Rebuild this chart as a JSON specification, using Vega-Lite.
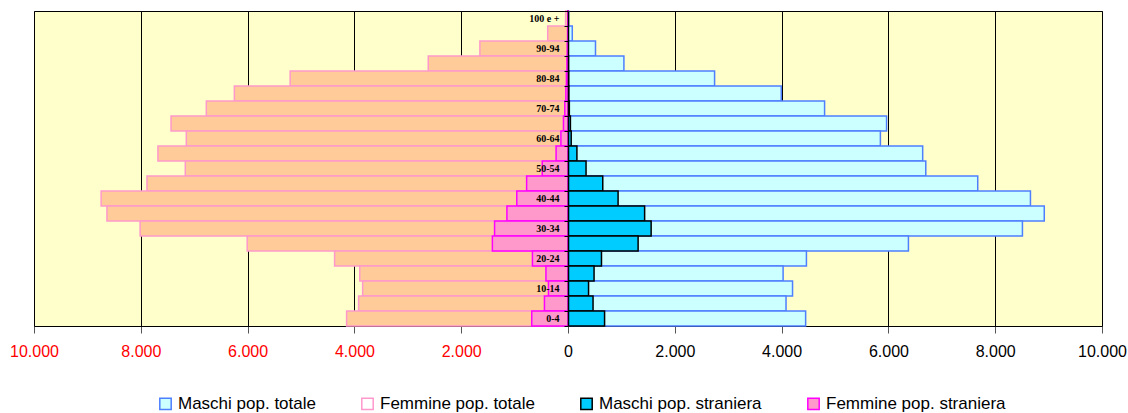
{
  "$schema": "https://vega.github.io/schema/vega-lite/v6.json",
  "autosize": "none",
  "padding": {"left": 34, "top": 11, "right": 26, "bottom": 87},
  "width": 1068,
  "height": 315,
  "background": "white",
  "view": {"fill": "#FFFFCC", "stroke": "black", "strokeWidth": 1},
  "data": {
    "values": [
      {"eta": "100 e +", "gruppo": "Maschi pop. totale", "valore": 12},
      {"eta": "95-99", "gruppo": "Maschi pop. totale", "valore": 80},
      {"eta": "90-94", "gruppo": "Maschi pop. totale", "valore": 515},
      {"eta": "85-89", "gruppo": "Maschi pop. totale", "valore": 1047},
      {"eta": "80-84", "gruppo": "Maschi pop. totale", "valore": 2745},
      {"eta": "75-79", "gruppo": "Maschi pop. totale", "valore": 3994},
      {"eta": "70-74", "gruppo": "Maschi pop. totale", "valore": 4805},
      {"eta": "65-69", "gruppo": "Maschi pop. totale", "valore": 5966},
      {"eta": "60-64", "gruppo": "Maschi pop. totale", "valore": 5850},
      {"eta": "55-59", "gruppo": "Maschi pop. totale", "valore": 6642},
      {"eta": "50-54", "gruppo": "Maschi pop. totale", "valore": 6700},
      {"eta": "45-49", "gruppo": "Maschi pop. totale", "valore": 7673},
      {"eta": "40-44", "gruppo": "Maschi pop. totale", "valore": 8660},
      {"eta": "35-39", "gruppo": "Maschi pop. totale", "valore": 8919},
      {"eta": "30-34", "gruppo": "Maschi pop. totale", "valore": 8510},
      {"eta": "25-29", "gruppo": "Maschi pop. totale", "valore": 6375},
      {"eta": "20-24", "gruppo": "Maschi pop. totale", "valore": 4465},
      {"eta": "15-19", "gruppo": "Maschi pop. totale", "valore": 4028},
      {"eta": "10-14", "gruppo": "Maschi pop. totale", "valore": 4205},
      {"eta": "5-9", "gruppo": "Maschi pop. totale", "valore": 4083},
      {"eta": "0-4", "gruppo": "Maschi pop. totale", "valore": 4450},
      {"eta": "100 e +", "gruppo": "Femmine pop. totale", "valore": -45},
      {"eta": "95-99", "gruppo": "Femmine pop. totale", "valore": -380},
      {"eta": "90-94", "gruppo": "Femmine pop. totale", "valore": -1650},
      {"eta": "85-89", "gruppo": "Femmine pop. totale", "valore": -2617},
      {"eta": "80-84", "gruppo": "Femmine pop. totale", "valore": -5203},
      {"eta": "75-79", "gruppo": "Femmine pop. totale", "valore": -6248},
      {"eta": "70-74", "gruppo": "Femmine pop. totale", "valore": -6773},
      {"eta": "65-69", "gruppo": "Femmine pop. totale", "valore": -7434},
      {"eta": "60-64", "gruppo": "Femmine pop. totale", "valore": -7148},
      {"eta": "55-59", "gruppo": "Femmine pop. totale", "valore": -7679},
      {"eta": "50-54", "gruppo": "Femmine pop. totale", "valore": -7167},
      {"eta": "45-49", "gruppo": "Femmine pop. totale", "valore": -7884},
      {"eta": "40-44", "gruppo": "Femmine pop. totale", "valore": -8743},
      {"eta": "35-39", "gruppo": "Femmine pop. totale", "valore": -8634},
      {"eta": "30-34", "gruppo": "Femmine pop. totale", "valore": -8013},
      {"eta": "25-29", "gruppo": "Femmine pop. totale", "valore": -6008},
      {"eta": "20-24", "gruppo": "Femmine pop. totale", "valore": -4371},
      {"eta": "15-19", "gruppo": "Femmine pop. totale", "valore": -3900},
      {"eta": "10-14", "gruppo": "Femmine pop. totale", "valore": -3846},
      {"eta": "5-9", "gruppo": "Femmine pop. totale", "valore": -3921},
      {"eta": "0-4", "gruppo": "Femmine pop. totale", "valore": -4146},
      {"eta": "100 e +", "gruppo": "Maschi pop. straniera", "valore": 2},
      {"eta": "95-99", "gruppo": "Maschi pop. straniera", "valore": 3},
      {"eta": "90-94", "gruppo": "Maschi pop. straniera", "valore": 5},
      {"eta": "85-89", "gruppo": "Maschi pop. straniera", "valore": 8},
      {"eta": "80-84", "gruppo": "Maschi pop. straniera", "valore": 12},
      {"eta": "75-79", "gruppo": "Maschi pop. straniera", "valore": 15},
      {"eta": "70-74", "gruppo": "Maschi pop. straniera", "valore": 25},
      {"eta": "65-69", "gruppo": "Maschi pop. straniera", "valore": 45},
      {"eta": "60-64", "gruppo": "Maschi pop. straniera", "valore": 60},
      {"eta": "55-59", "gruppo": "Maschi pop. straniera", "valore": 167},
      {"eta": "50-54", "gruppo": "Maschi pop. straniera", "valore": 338},
      {"eta": "45-49", "gruppo": "Maschi pop. straniera", "valore": 651},
      {"eta": "40-44", "gruppo": "Maschi pop. straniera", "valore": 938},
      {"eta": "35-39", "gruppo": "Maschi pop. straniera", "valore": 1435},
      {"eta": "30-34", "gruppo": "Maschi pop. straniera", "valore": 1557},
      {"eta": "25-29", "gruppo": "Maschi pop. straniera", "valore": 1313},
      {"eta": "20-24", "gruppo": "Maschi pop. straniera", "valore": 627},
      {"eta": "15-19", "gruppo": "Maschi pop. straniera", "valore": 488},
      {"eta": "10-14", "gruppo": "Maschi pop. straniera", "valore": 385},
      {"eta": "5-9", "gruppo": "Maschi pop. straniera", "valore": 469},
      {"eta": "0-4", "gruppo": "Maschi pop. straniera", "valore": 685},
      {"eta": "100 e +", "gruppo": "Femmine pop. straniera", "valore": -5},
      {"eta": "95-99", "gruppo": "Femmine pop. straniera", "valore": -8},
      {"eta": "90-94", "gruppo": "Femmine pop. straniera", "valore": -15},
      {"eta": "85-89", "gruppo": "Femmine pop. straniera", "valore": -20},
      {"eta": "80-84", "gruppo": "Femmine pop. straniera", "valore": -30},
      {"eta": "75-79", "gruppo": "Femmine pop. straniera", "valore": -40},
      {"eta": "70-74", "gruppo": "Femmine pop. straniera", "valore": -60},
      {"eta": "65-69", "gruppo": "Femmine pop. straniera", "valore": -85},
      {"eta": "60-64", "gruppo": "Femmine pop. straniera", "valore": -133},
      {"eta": "55-59", "gruppo": "Femmine pop. straniera", "valore": -223},
      {"eta": "50-54", "gruppo": "Femmine pop. straniera", "valore": -482},
      {"eta": "45-49", "gruppo": "Femmine pop. straniera", "valore": -775},
      {"eta": "40-44", "gruppo": "Femmine pop. straniera", "valore": -959},
      {"eta": "35-39", "gruppo": "Femmine pop. straniera", "valore": -1144},
      {"eta": "30-34", "gruppo": "Femmine pop. straniera", "valore": -1375},
      {"eta": "25-29", "gruppo": "Femmine pop. straniera", "valore": -1416},
      {"eta": "20-24", "gruppo": "Femmine pop. straniera", "valore": -666},
      {"eta": "15-19", "gruppo": "Femmine pop. straniera", "valore": -413},
      {"eta": "10-14", "gruppo": "Femmine pop. straniera", "valore": -366},
      {"eta": "5-9", "gruppo": "Femmine pop. straniera", "valore": -441},
      {"eta": "0-4", "gruppo": "Femmine pop. straniera", "valore": -679}
    ]
  },
  "encoding": {
    "y": {
      "field": "eta",
      "type": "nominal",
      "sort": ["100 e +", "95-99", "90-94", "85-89", "80-84", "75-79", "70-74", "65-69", "60-64", "55-59", "50-54", "45-49", "40-44", "35-39", "30-34", "25-29", "20-24", "15-19", "10-14", "5-9", "0-4"],
      "scale": {"paddingInner": 0, "paddingOuter": 0},
      "axis": {
        "title": null,
        "orient": "left",
        "offset": -534,
        "zindex": 2,
        "domainColor": "black",
        "domainWidth": 1.5,
        "tickColor": "black",
        "tickSize": 4,
        "tickBand": "extent",
        "labelPadding": 5,
        "labelFont": "Liberation Serif",
        "labelFontWeight": "bold",
        "labelFontSize": 10,
        "labelColor": "black",
        "labelExpr": "indexof(['100 e +','90-94','80-84','70-74','60-64','50-54','40-44','30-34','20-24','10-14','0-4'], datum.label) >= 0 ? datum.label : ''",
        "grid": false
      }
    },
    "x": {
      "field": "valore",
      "type": "quantitative",
      "stack": null,
      "scale": {"domain": [-10000, 10000], "nice": false, "zero": false},
      "axis": {
        "title": null,
        "values": [-10000, -8000, -6000, -4000, -2000, 0, 2000, 4000, 6000, 8000, 10000],
        "labelExpr": "replace(format(abs(datum.value), ',d'), ',', '.')",
        "labelFont": "Liberation Sans",
        "labelFontSize": 16,
        "labelFlush": false,
        "labelColor": {"condition": {"test": "datum.value < 0", "value": "#FF0000"}, "value": "black"},
        "labelPadding": 10,
        "tickSize": 7,
        "tickColor": "#555555",
        "domainColor": "black",
        "grid": true,
        "gridColor": "black",
        "gridWidth": 1,
        "gridOpacity": 1
      }
    }
  },
  "layer": [
    {
      "mark": {"type": "bar", "strokeWidth": 1.5, "opacity": 1},
      "encoding": {
        "fill": {
          "field": "gruppo",
          "type": "nominal",
          "scale": {
            "domain": ["Maschi pop. totale", "Femmine pop. totale", "Maschi pop. straniera", "Femmine pop. straniera"],
            "range": ["#CCFFFF", "#FFCC99", "#00CCFF", "#FF99CC"]
          },
          "legend": null
        },
        "stroke": {
          "field": "gruppo",
          "type": "nominal",
          "scale": {
            "domain": ["Maschi pop. totale", "Femmine pop. totale", "Maschi pop. straniera", "Femmine pop. straniera"],
            "range": ["#4D7FFF", "#FF99CC", "#000000", "#FF00FF"]
          },
          "legend": null
        }
      }
    },
    {
      "mark": {"type": "bar", "strokeWidth": 1.5, "opacity": 0},
      "encoding": {
        "fill": {
          "field": "gruppo",
          "type": "nominal",
          "scale": {
            "domain": ["Maschi pop. totale", "Femmine pop. totale", "Maschi pop. straniera", "Femmine pop. straniera"],
            "range": ["#CCFFFF", "#FFFFFF", "#00CCFF", "#FF99CC"]
          },
          "legend": {
            "title": null,
            "orient": "none",
            "direction": "horizontal",
            "legendX": 123,
            "legendY": 384,
            "symbolType": "square",
            "symbolSize": 130,
            "symbolStrokeWidth": 1.5,
            "symbolOpacity": 1,
            "labelFont": "Liberation Sans",
            "labelFontSize": 17,
            "labelColor": "black",
            "labelOffset": 4,
            "columnPadding": 42,
            "labelLimit": 300
          }
        },
        "stroke": {
          "field": "gruppo",
          "type": "nominal",
          "scale": {
            "domain": ["Maschi pop. totale", "Femmine pop. totale", "Maschi pop. straniera", "Femmine pop. straniera"],
            "range": ["#4D7FFF", "#FF99CC", "#000000", "#FF00FF"]
          },
          "legend": {
            "title": null,
            "orient": "none",
            "direction": "horizontal",
            "legendX": 123,
            "legendY": 384,
            "symbolType": "square",
            "symbolSize": 130,
            "symbolStrokeWidth": 1.5,
            "symbolOpacity": 1,
            "labelFont": "Liberation Sans",
            "labelFontSize": 17,
            "labelColor": "black",
            "labelOffset": 4,
            "columnPadding": 42,
            "labelLimit": 300
          }
        }
      }
    }
  ],
  "resolve": {"scale": {"fill": "independent", "stroke": "independent"}, "legend": {"fill": "independent", "stroke": "independent"}}
}
